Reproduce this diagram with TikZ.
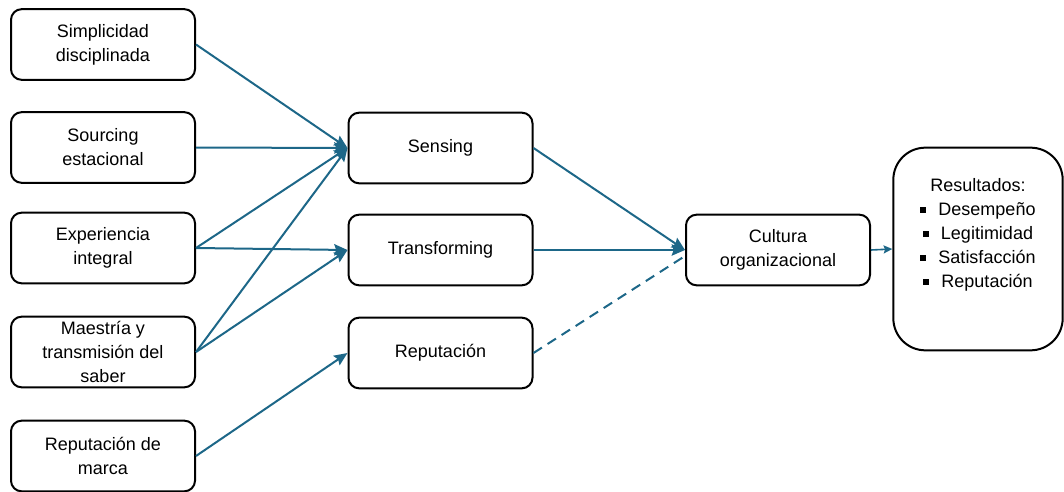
\documentclass[tikz,border=0pt]{standalone}
\usepackage{fontspec}
\setmainfont{Liberation Sans}
\usepackage{xcolor}
\usetikzlibrary{arrows.meta,positioning,calc}

\definecolor{linkblue}{HTML}{1D6788}
\newcommand{\sqbullet}{\raisebox{2.2pt}{\rule{4.5pt}{4.5pt}}\hspace{9pt}}

\begin{document}
\begin{tikzpicture}[
    x=0.75pt, y=-0.75pt,
    every node/.style={font=\fontsize{13.5}{18}\selectfont},
    factor/.style={rectangle, draw, line width=1.5pt, rounded corners=8pt, minimum width=138pt, minimum height=53pt, align=center, inner sep=1pt},
    result/.style={rectangle, draw, line width=1.5pt, rounded corners=24pt, minimum width=127pt, minimum height=152pt, align=center},
    dep/.style={-{Stealth[length=10pt,width=8.5pt,inset=1.5pt]}, line width=1.5pt, draw=linkblue, fill=linkblue},
    weak/.style={line width=1.5pt, draw=linkblue, dash pattern=on 7.5pt off 5pt}
]
    \useasboundingbox (0,0) rectangle (1064,492);

    % Input factors
    \node[factor] (simpl) at (103,44.5) {Simplicidad\\disciplinada};
    \node[factor] (sourcing) at (103,147.5) {Sourcing\\estacional};
    \node[factor] (exper) at (103,248) {Experiencia\\integral};
    \node[factor] (maestria) at (103,352) {Maestría y\\transmisión del\\saber};
    \node[factor] (marca) at (103,456) {Reputación de\\marca};

    % Capabilities
    \node[factor] (sensing) at (440.5,148) {Sensing};
    \node[factor] (transf) at (440.5,250) {Transforming};
    \node[factor] (reput) at (440.5,353) {Reputación};

    % Culture and results
    \node[factor] (cultura) at (778,250) {Cultura\\organizacional};
    \node[result] (result) at (978,249) {Resultados:\\
        \sqbullet Desempeño\\
        \sqbullet Legitimidad\\
        \sqbullet Satisfacción\\
        \sqbullet Reputación\\
        \strut};

    % Links
    \draw[dep] (simpl.east) -- (sensing.west);
    \draw[dep] (sourcing.east) -- (sensing.west);
    \draw[dep] (exper.east) -- (sensing.west);
    \draw[dep] (exper.east) -- (transf.west);
    \draw[dep] (maestria.east) -- (sensing.west);
    \draw[dep] (maestria.east) -- (transf.west);
    \draw[dep] (marca.east) -- (reput.west);
    \draw[dep] (sensing.east) -- (cultura.west);
    \draw[dep] (transf.east) -- (cultura.west);
    \draw[weak] (reput.east) -- ($(cultura.west)+(0,6)$);
    \draw[dep, line width=1.2pt, -{Stealth[length=6.5pt,width=6pt,inset=1pt]}] (cultura.east) -- (result.west);
\end{tikzpicture}
\end{document}
